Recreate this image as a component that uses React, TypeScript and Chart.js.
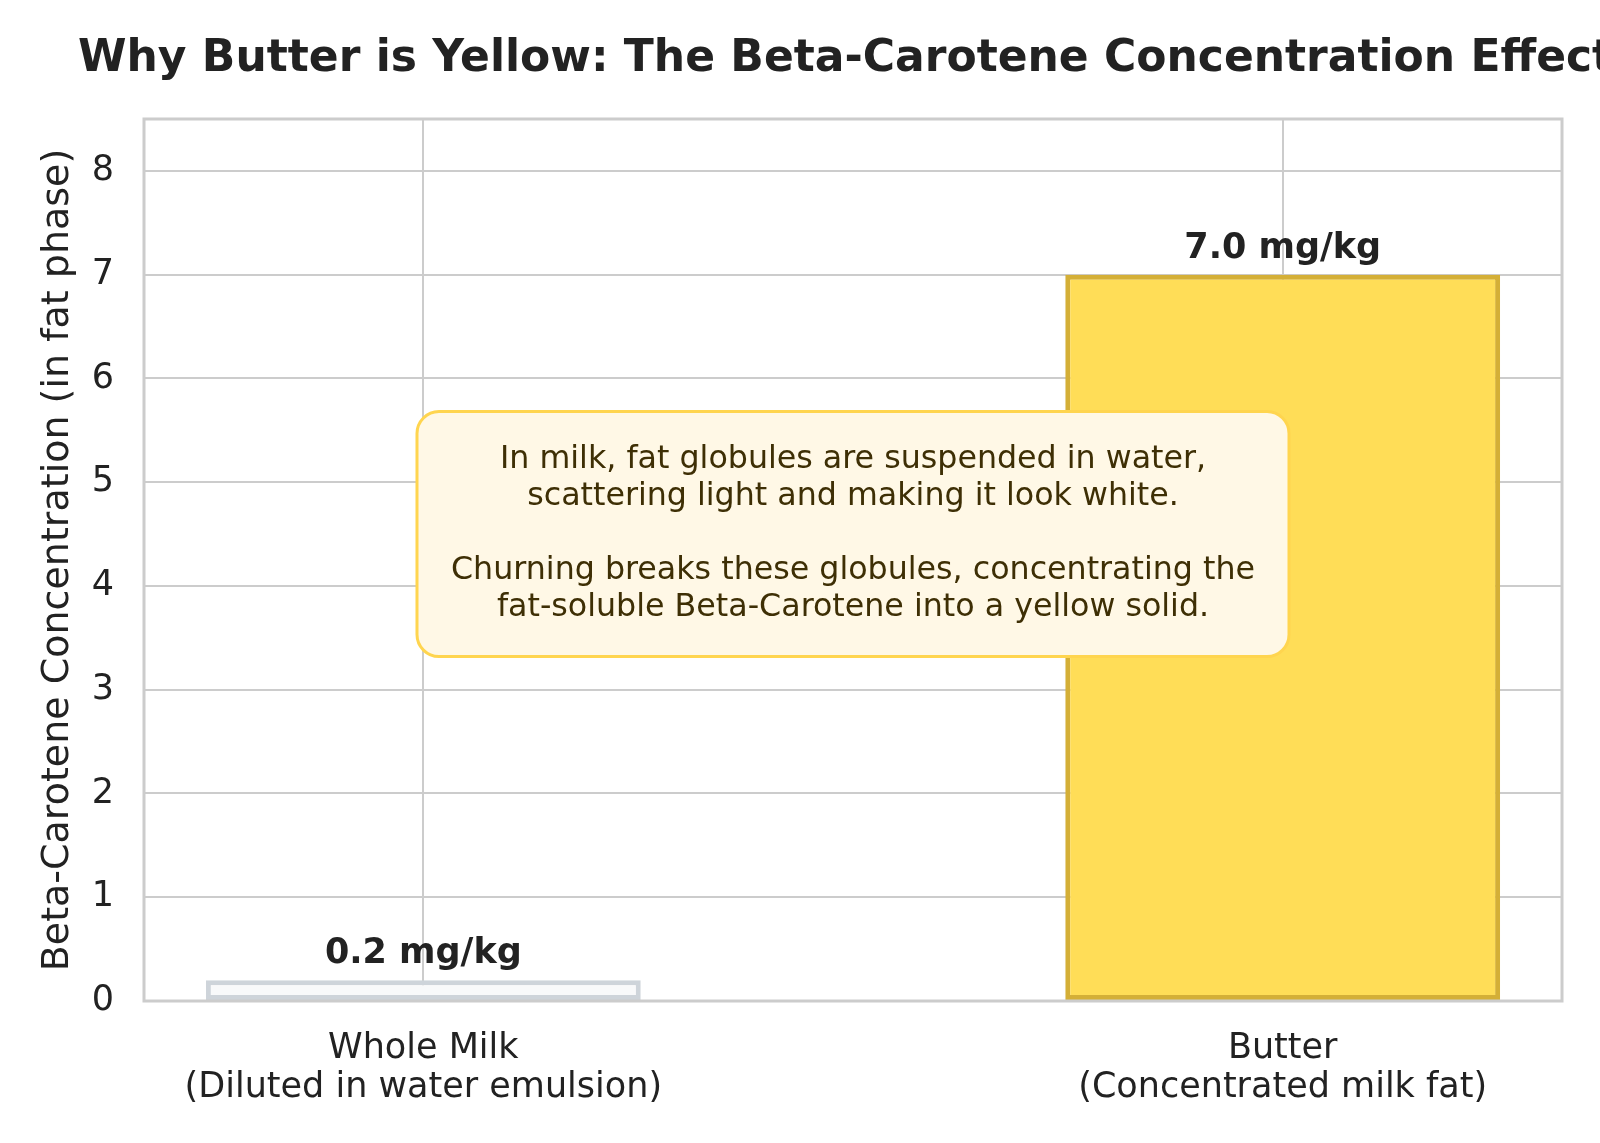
import React, { useEffect, useRef } from 'react';
import { Chart, registerables } from 'chart.js';

Chart.register(...registerables);

const FONT = "'DejaVu Sans', 'Noto Sans', sans-serif";

const TITLE = 'Why Butter is Yellow: The Beta-Carotene Concentration Effect';
const Y_LABEL = 'Beta-Carotene Concentration (in fat phase)';

const categories = ['Whole Milk', 'Butter'];
const categoryNotes = ['(Diluted in water emulsion)', '(Concentrated milk fat)'];
const concentrations = [0.2, 7.0];
const valueLabels = ['0.2 mg/kg', '7.0 mg/kg'];
const fillColors = ['#F8F9FA', '#FFDD57'];
const edgeColors = ['#CED4DA', '#D4AF37'];

const Y_MIN = 0;
const Y_MAX = 8.5;
const Y_STEP = 1;
const X_MIN = -0.325;
const X_MAX = 1.325;

const noteLines = [
  'In milk, fat globules are suspended in water,',
  'scattering light and making it look white.',
  '',
  'Churning breaks these globules, concentrating the',
  'fat-soluble Beta-Carotene into a yellow solid.',
];
const NOTE_X = 0.5;
const NOTE_Y = 4.5;

const overlayPlugin = {
  id: 'overlay',
  afterDatasetsDraw(chart: any) {
    const { ctx, chartArea: a, scales } = chart;
    ctx.save();
    // spines
    ctx.strokeStyle = '#cccccc';
    ctx.lineWidth = 3;
    ctx.strokeRect(a.left, a.top, a.right - a.left, a.bottom - a.top);

    // bar value labels
    const meta = chart.getDatasetMeta(0);
    ctx.font = `bold 35px ${FONT}`;
    ctx.fillStyle = '#222222';
    ctx.textAlign = 'center';
    ctx.textBaseline = 'alphabetic';
    meta.data.forEach((bar: any, i: number) => {
      ctx.fillText(valueLabels[i], bar.x, bar.y - 17);
    });

    // annotation box
    const cx = scales.x.getPixelForValue(NOTE_X);
    const cy = scales.y.getPixelForValue(NOTE_Y);
    ctx.font = `31.7px ${FONT}`;
    const lineH = 37;
    let maxW = 0;
    noteLines.forEach((l) => {
      maxW = Math.max(maxW, ctx.measureText(l).width);
    });
    const padX = 34;
    const padY = 30;
    const w = maxW + 2 * padX;
    const h = noteLines.length * lineH + 2 * padY;
    ctx.beginPath();
    ctx.roundRect(cx - w / 2, cy - h / 2, w, h, 22);
    ctx.fillStyle = '#FFF8E6';
    ctx.fill();
    ctx.lineWidth = 3;
    ctx.strokeStyle = '#FFD54F';
    ctx.stroke();
    ctx.fillStyle = '#3E2F05';
    ctx.textAlign = 'center';
    ctx.textBaseline = 'middle';
    const n = noteLines.length;
    noteLines.forEach((l, i) => {
      ctx.fillText(l, cx, cy + (i - (n - 1) / 2) * lineH);
    });
    ctx.restore();
  },
  afterDraw(chart: any) {
    const { ctx } = chart;
    ctx.save();
    ctx.font = `bold 44px ${FONT}`;
    ctx.fillStyle = '#222222';
    ctx.textAlign = 'left';
    ctx.textBaseline = 'alphabetic';
    ctx.fillText(TITLE, 78, 71);
    ctx.restore();
  },
};

export default function App() {
  const ref = useRef<HTMLCanvasElement>(null);

  useEffect(() => {
    const canvas = ref.current;
    if (!canvas) return;
    const chart = new Chart(canvas, {
      type: 'bar',
      data: {
        datasets: [
          {
            data: concentrations.map((v, i) => ({ x: i, y: v })),
            backgroundColor: fillColors,
            borderColor: edgeColors,
            borderWidth: 5,
            borderSkipped: false,
            barPercentage: 0.506,
            categoryPercentage: 1,
          } as any,
        ],
      },
      options: {
        animation: false,
        responsive: false,
        devicePixelRatio: 1,
        layout: { padding: { top: 119, right: 38, left: 0, bottom: 0 } },
        plugins: {
          legend: { display: false },
          tooltip: { enabled: false },
          title: { display: false },
        },
        scales: {
          x: {
            type: 'linear',
            min: X_MIN,
            max: X_MAX,
            offset: false,
            afterBuildTicks: (s: any) => {
              s.ticks = categories.map((_, i) => ({ value: i }));
            },
            afterFit: (s: any) => {
              s.height = 142;
            },
            ticks: {
              autoSkip: false,
              maxRotation: 0,
              padding: 28,
              color: '#222222',
              font: { size: 35, family: FONT, lineHeight: 1.12 },
              callback: (v: any) => {
                const i = Math.round(Number(v));
                return [categories[i], categoryNotes[i]];
              },
            },
            grid: { color: '#cccccc', lineWidth: 2, drawTicks: false, offset: false },
            border: { display: false },
          } as any,
          y: {
            type: 'linear',
            min: Y_MIN,
            max: Y_MAX,
            afterFit: (s: any) => {
              s.width = 144;
            },
            ticks: {
              stepSize: Y_STEP,
              includeBounds: false,
              padding: 30,
              color: '#222222',
              font: { size: 35, family: FONT },
            },
            grid: { color: '#cccccc', lineWidth: 2, drawTicks: false },
            border: { display: false },
            title: {
              display: true,
              text: Y_LABEL,
              color: '#222222',
              font: { size: 38, family: FONT },
              padding: { top: 35, bottom: 0 },
            },
          } as any,
        },
      },
      plugins: [overlayPlugin],
    });
    return () => chart.destroy();
  }, []);

  return (
    <div
      style={{
        position: 'absolute',
        left: 0,
        top: 0,
        width: 1600,
        height: 1143,
        background: '#ffffff',
        overflow: 'hidden',
      }}
    >
      <canvas
        ref={ref}
        width={1600}
        height={1143}
        style={{ display: 'block', width: 1600, height: 1143 }}
      />
    </div>
  );
}
